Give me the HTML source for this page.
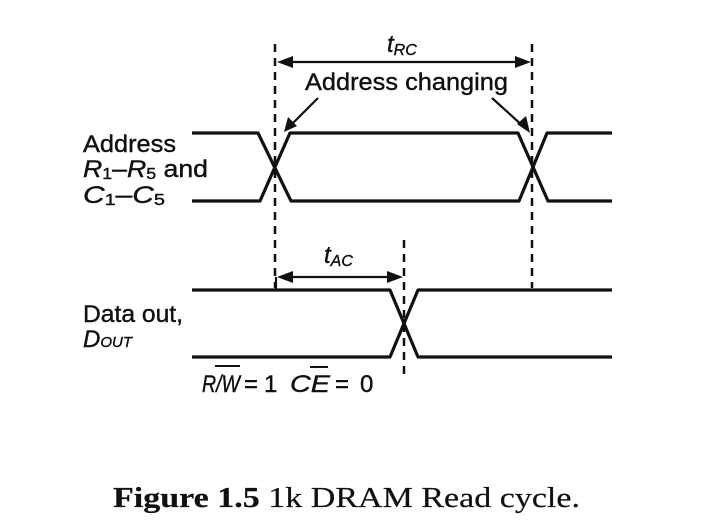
<!DOCTYPE html>
<html><head><meta charset="utf-8"><style>
html,body{margin:0;padding:0;background:#fff;}
svg{display:block;}
text{font-family:"Liberation Sans",sans-serif;fill:#111;stroke:#111;stroke-width:0.4;}
</style></head><body>
<svg width="726" height="532" viewBox="0 0 726 532" xmlns="http://www.w3.org/2000/svg">
<g stroke="#111" stroke-width="3.2" fill="none" stroke-linejoin="round">
<polyline points="192,133 258,133 291,201 519,201 547,133 612,133"/>
<polyline points="192,201 260,201 290,133 518,133 548,201 612,201"/>
<polyline points="192,290 390,290 418,357 612,357"/>
<polyline points="192,357 390,357 418,290 612,290"/>
</g>
<g stroke="#111" stroke-width="2.5" stroke-dasharray="8,6" fill="none">
<line x1="275" y1="44" x2="275" y2="288"/>
<line x1="532" y1="44" x2="532" y2="288"/>
<line x1="404" y1="240" x2="404" y2="376"/>
</g>
<g stroke="#111" stroke-width="2.2" fill="none">
<line x1="285" y1="62" x2="522" y2="62"/>
<line x1="285" y1="277" x2="394" y2="277"/>
<line x1="276" y1="277" x2="276" y2="290"/>
<line x1="318" y1="98" x2="290" y2="126"/>
<line x1="492" y1="98" x2="524" y2="127"/>
</g>
<g fill="#111">
<polygon points="277,62 293,56 293,68"/>
<polygon points="531,62 515,56 515,68"/>
<polygon points="277,277 293,271 293,283"/>
<polygon points="403,277 387,271 387,283"/>
<polygon points="284,132 288,117 297,126"/>
<polygon points="530,133 517,124 526,116"/>
</g>
<text x="387" y="52" font-size="24" font-style="italic">t<tspan font-size="16" dy="3">RC</tspan></text>
<text x="305" y="90" font-size="24" textLength="203" lengthAdjust="spacingAndGlyphs">Address changing</text>
<text x="324" y="263" font-size="24" font-style="italic">t<tspan font-size="16" dy="3">AC</tspan></text>
<text x="83" y="152" font-size="24" textLength="93" lengthAdjust="spacingAndGlyphs">Address</text>
<text x="83" y="177" font-size="24" textLength="125" lengthAdjust="spacingAndGlyphs"><tspan font-style="italic">R</tspan><tspan font-size="16" dy="2">1</tspan><tspan dy="-2">–</tspan><tspan font-style="italic">R</tspan><tspan font-size="16" dy="2">5</tspan><tspan dy="-2"> and</tspan></text>
<text x="83" y="203" font-size="24" textLength="82" lengthAdjust="spacingAndGlyphs"><tspan font-style="italic">C</tspan><tspan font-size="16" dy="2">1</tspan><tspan dy="-2">–</tspan><tspan font-style="italic">C</tspan><tspan font-size="16" dy="2">5</tspan></text>
<text x="83" y="322" font-size="24" textLength="100" lengthAdjust="spacingAndGlyphs">Data out,</text>
<text x="83" y="347" font-size="24" font-style="italic">D<tspan font-size="15">OUT</tspan></text>
<text x="202" y="392" font-size="24" font-style="italic" textLength="38" lengthAdjust="spacingAndGlyphs">R/W</text>
<text x="244" y="392" font-size="24">=</text>
<text x="264" y="392" font-size="24">1</text>
<text x="290" y="392" font-size="24" font-style="italic" textLength="40" lengthAdjust="spacingAndGlyphs">CE</text>
<text x="335" y="392" font-size="24">=</text>
<text x="360" y="392" font-size="24">0</text>
<line x1="215" y1="366" x2="240" y2="366" stroke="#111" stroke-width="2"/>
<line x1="310" y1="367" x2="328" y2="367" stroke="#111" stroke-width="2"/>
<text x="113" y="507" font-size="28" textLength="467" lengthAdjust="spacingAndGlyphs" style="font-family:'Liberation Serif',serif;stroke-width:0.2"><tspan font-weight="bold">Figure 1.5</tspan>  1k DRAM Read cycle.</text>
</svg>
</body></html>
